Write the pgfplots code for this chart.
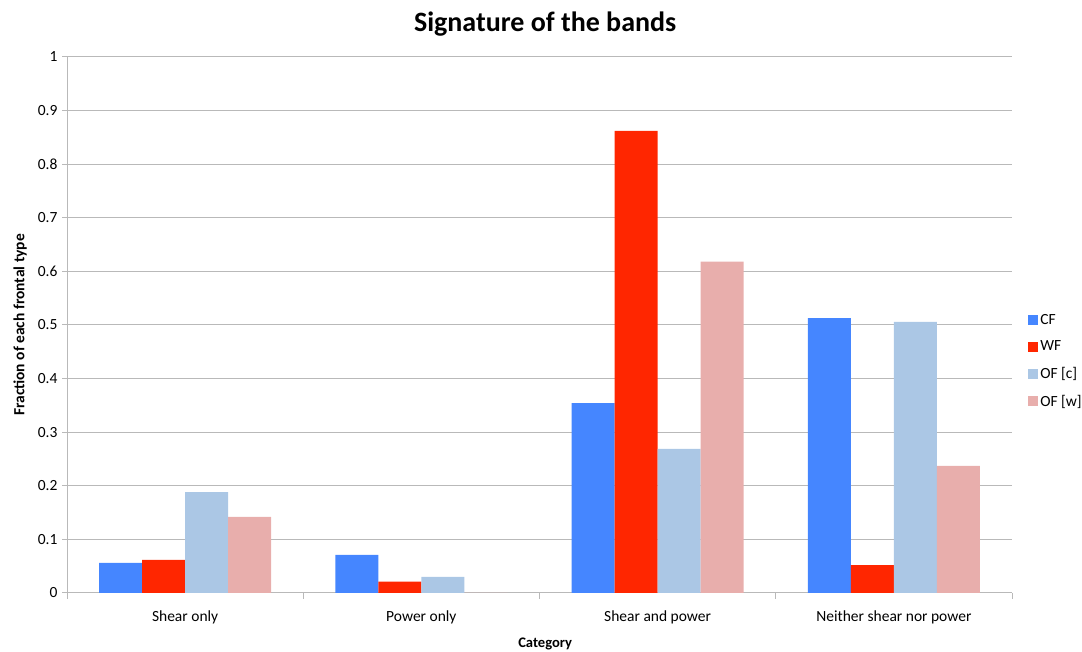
\documentclass[border=0pt]{standalone}
\usepackage{pgfplots}
\pgfplotsset{compat=1.18}
\usepackage{fontspec}
\setmainfont{Carlito}
\definecolor{cfc}{RGB}{69,134,255}
\definecolor{wfc}{RGB}{255,38,0}
\definecolor{ofcc}{RGB}{171,199,229}
\definecolor{ofwc}{RGB}{232,174,172}
\definecolor{gridc}{RGB}{185,185,185}
\begin{document}
\begin{tikzpicture}[x=1pt,y=1pt]
\useasboundingbox (0,0) rectangle (1082,652);
\begin{axis}[
  at={(67pt,59pt)}, anchor=south west,
  scale only axis, width=945pt, height=536pt,
  ymin=0, ymax=1, xmin=-0.5, xmax=3.5,
  ybar=0pt, bar width=43pt,
  xtick={0,1,2,3},
  xticklabels={Shear only, Power only, Shear and power, Neither shear nor power},
  minor xtick={-0.5,0.5,1.5,2.5,3.5},
  ytick={0,0.1,0.2,0.3,0.4,0.5,0.6,0.7,0.8,0.9,1},
  yticklabels={0,0.1,0.2,0.3,0.4,0.5,0.6,0.7,0.8,0.9,1},
  axis lines*=left,
  axis line style={draw=gridc, line width=1pt},
  tick align=outside,
  major tick length=5pt, minor tick length=6pt,
  major x tick style={draw=none},
  minor x tick style={draw=gridc, line width=1pt},
  major y tick style={draw=gridc, line width=1pt},
  ymajorgrids, grid style={draw=gridc, line width=1pt},
  tick label style={font=\fontsize{15.5}{18}\selectfont},
  xticklabel style={anchor=base, yshift=-24pt},
  yticklabel style={xshift=-1pt},
  title={Signature of the bands},
  title style={font=\fontsize{28}{32}\selectfont\bfseries, anchor=base, at={(0.506,1)}, yshift=19pt},
  xlabel={Category},
  xlabel style={font=\fontsize{14.6}{17}\selectfont\bfseries, anchor=base, at={(0.506,0)}, yshift=-55pt},
  ylabel={Fraction of each frontal type},
  ylabel style={font=\fontsize{15.5}{18}\selectfont\bfseries, anchor=center, at={(-0.0497,0.5)}},
  legend style={at={(1.017,0.524)}, anchor=north west, draw=none, fill=none, inner sep=0pt,
    font=\fontsize{15.5}{18}\selectfont, row sep=11pt},
  legend cell align=left,
  legend image code/.code={\path[#1, draw=none] (0pt,-5pt) rectangle (10pt,5pt);},
]
\addplot[fill=cfc, draw=none] coordinates {(0,0.056) (1,0.071) (2,0.354) (3,0.513)};
\addplot[fill=wfc, draw=none] coordinates {(0,0.062) (1,0.021) (2,0.862) (3,0.052)};
\addplot[fill=ofcc, draw=none] coordinates {(0,0.188) (1,0.030) (2,0.269) (3,0.506)};
\addplot[fill=ofwc, draw=none] coordinates {(0,0.142) (1,0.0) (2,0.618) (3,0.237)};
\legend{CF, WF, OF [c], OF [w]}
\end{axis}
\end{tikzpicture}
\end{document}
